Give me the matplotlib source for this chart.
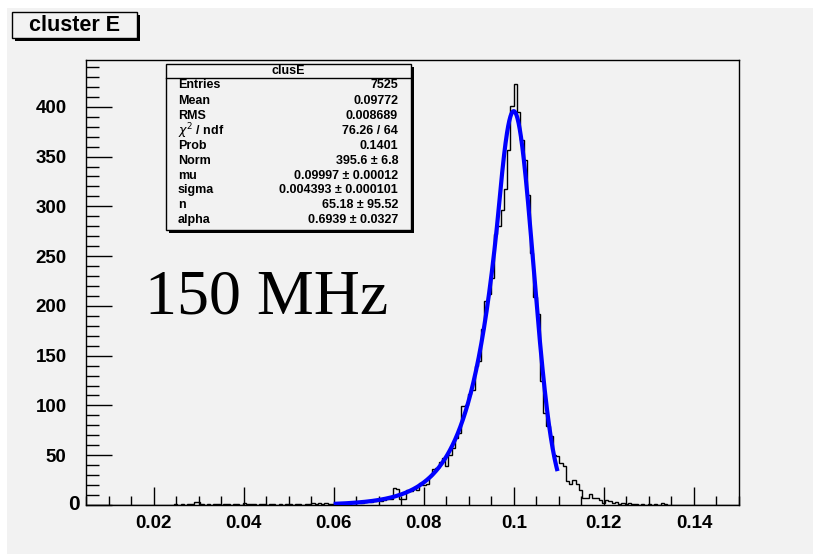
import numpy as np
import matplotlib
matplotlib.use('Agg')
import matplotlib.pyplot as plt
from matplotlib.patches import Rectangle
from matplotlib.ticker import MultipleLocator, FuncFormatter

W, H = 813, 554
BG = '#f2f2f2'

# ---------------- data ----------------
x_min, x_max, n_bins = 0.005, 0.15, 200
first_filled_bin = 26
filled_counts = [
    # bins 26-75
    0, 1, 0, 1, 0, 1, 1, 3, 3, 1, 0, 1, 0, 1, 1, 0, 1, 1, 0, 1, 1, 0, 2, 1, 1,
    1, 0, 1, 1, 0, 1, 1, 0, 1, 0, 1, 1, 0, 1, 1, 0, 1, 1, 2, 1, 2, 1, 2, 1, 1,
    # bins 76-116
    2, 1, 2, 2, 1, 3, 2, 3, 2, 3, 4, 3, 4, 6, 4, 5, 6, 6, 17, 16, 6, 6, 15, 14,
    16, 15, 22, 20, 21, 29, 36, 37, 43, 47, 39, 50, 57, 67, 72, 99, 100,
    # bins 117-138
    112, 116, 140, 145, 177, 205, 212, 228, 272, 280, 296, 317, 357, 401, 423,
    395, 367, 347, 311, 253, 209, 192,
    # bins 139-179
    125, 92, 79, 69, 50, 49, 42, 39, 24, 21, 25, 21, 15, 7, 7, 11, 7, 7, 5, 2,
    5, 4, 2, 3, 1, 2, 1, 2, 1, 1, 0, 1, 0, 1, 0, 1, 0, 2, 1, 0, 0,
]
counts = np.zeros(n_bins)
counts[first_filled_bin:first_filled_bin + len(filled_counts)] = filled_counts
edges = np.linspace(x_min, x_max, n_bins + 1)

stat_title = 'clusE'
stat_labels = ['Entries', 'Mean', 'RMS', r'$\chi^{2}$ / ndf', 'Prob', 'Norm',
               'mu', 'sigma', 'n', 'alpha']
stat_values = ['7525', '0.09772', '0.008689', '76.26 / 64', '0.1401',
               '395.6 \u00b1 6.8', '0.09997 \u00b1 0.00012',
               '0.004393 \u00b1 0.000101', '65.18 \u00b1 95.52',
               '0.6939 \u00b1 0.0327']

fit_norm, fit_mu, fit_sigma, fit_n, fit_alpha = 395.6, 0.09997, 0.004393, 65.18, 0.6939
fit_lo, fit_hi = 0.06, 0.1097

title_text = 'cluster E'
note_text = '150 MHz'

y_max = 447


def crystal_ball(x):
    t = (x - fit_mu) / fit_sigma
    a = abs(fit_alpha)
    B = fit_n / a - a
    core = fit_norm * np.exp(-0.5 * t * t)
    tail_arg = np.where(t > -a, 0.0, B - t)
    tail_arg = np.where(tail_arg <= 0, 1.0, tail_arg)
    tail = fit_norm * np.exp(-0.5 * a * a + fit_n * np.log((fit_n / a) / tail_arg))
    return np.where(t > -a, core, tail)


# ---------------- figure ----------------
fig = plt.figure(figsize=(W / 100, H / 100), dpi=100)
fig.patch.set_facecolor('white')


def fx(x):
    return x / W


def fy(y):
    return 1 - y / H


def fig_rect(x0, y0, x1, y1, **kw):
    r = Rectangle((fx(x0), fy(y1)), (x1 - x0) / W, (y1 - y0) / H,
                  transform=fig.transFigure, **kw)
    fig.add_artist(r)
    return r


fig_rect(7, 8, W, H, facecolor=BG, edgecolor='none', zorder=-10)

ax_l, ax_r, ax_t, ax_b = 86, 739, 60, 505
ax = fig.add_axes([fx(ax_l), fy(ax_b), (ax_r - ax_l) / W, (ax_b - ax_t) / H])
ax.set_facecolor(BG)

ax.stairs(counts, edges, color='black', lw=1.0, zorder=3)
xf = np.linspace(fit_lo, fit_hi, 600)
ax.plot(xf, crystal_ball(xf), color='#0000ff', lw=3.0, zorder=4,
        solid_capstyle='butt')

ax.set_xlim(x_min, x_max)
ax.set_ylim(0, y_max)

ax.xaxis.set_major_locator(MultipleLocator(0.02))
ax.xaxis.set_minor_locator(MultipleLocator(0.005))
ax.yaxis.set_major_locator(MultipleLocator(50))
ax.yaxis.set_minor_locator(MultipleLocator(10))
ax.xaxis.set_major_formatter(FuncFormatter(lambda v, p: f'{v:g}'))
# the "0" of the y axis is drawn separately (ROOT places it closer to the axis)
ax.yaxis.set_major_formatter(FuncFormatter(lambda v, p: '' if abs(v) < 1e-9 else f'{v:g}'))

ax.tick_params(axis='both', which='both', direction='in', top=False,
               right=False, color='black', width=1.0)
ax.tick_params(axis='x', which='major', length=13, pad=7)
ax.tick_params(axis='x', which='minor', length=6.5)
ax.tick_params(axis='y', which='major', length=19, pad=14)
ax.tick_params(axis='y', which='minor', length=9.5)
for lab in ax.get_xticklabels() + ax.get_yticklabels():
    lab.set_fontfamily('Liberation Sans')
    lab.set_fontweight('bold')
    lab.set_fontsize(13.5)
for sp in ax.spines.values():
    sp.set_color('black')
    sp.set_linewidth(1.0)

ax.annotate('0', xy=(0, 0), xycoords='axes fraction', xytext=(-6, 0),
            textcoords='offset pixels', ha='right', va='center',
            family='Liberation Sans', weight='bold', fontsize=15,
            annotation_clip=False)

# ---------------- title box ----------------
fig_rect(15, 15, 140, 41, facecolor='black', edgecolor='none', zorder=5)
fig_rect(12, 12, 137, 38, facecolor=BG, edgecolor='black', lw=1.0, zorder=6)
fig.text(fx(74.5), fy(25.5), title_text, family='Liberation Sans',
         weight='bold', fontsize=15.5, ha='center', va='center', zorder=7)

# ---------------- stats box ----------------
sb_l, sb_t, sb_r, sb_b = 166, 64, 411, 230
fig_rect(sb_l + 3, sb_t + 3, sb_r + 3, sb_b + 3, facecolor='black',
         edgecolor='none', zorder=5)
fig_rect(sb_l, sb_t, sb_r, sb_b, facecolor=BG, edgecolor='black', lw=1.0,
         zorder=6)
fig.add_artist(plt.Line2D([fx(sb_l), fx(sb_r)], [fy(78), fy(78)],
                          transform=fig.transFigure, color='black', lw=1.0,
                          zorder=7))
fig.text(fx((sb_l + sb_r) / 2), fy(71), stat_title, family='Liberation Sans',
         weight='bold', fontsize=9, ha='center', va='center', zorder=7)
row_y = [85, 100.5, 116, 131, 146, 160.5, 175.5, 190, 205, 220]
for lab, val, yy in zip(stat_labels, stat_values, row_y):
    fig.text(fx(178), fy(yy), lab, family='Liberation Sans', weight='bold',
             fontsize=9, ha='left', va='center', zorder=7)
    fig.text(fx(398), fy(yy), val, family='Liberation Sans', weight='bold',
             fontsize=9, ha='right', va='center', zorder=7)

# ---------------- annotation ----------------
fig.text(fx(145), fy(313), note_text, family='Liberation Serif', fontsize=46,
         ha='left', va='baseline', zorder=7)

fig.savefig('out.png', dpi=100, facecolor=fig.get_facecolor())
